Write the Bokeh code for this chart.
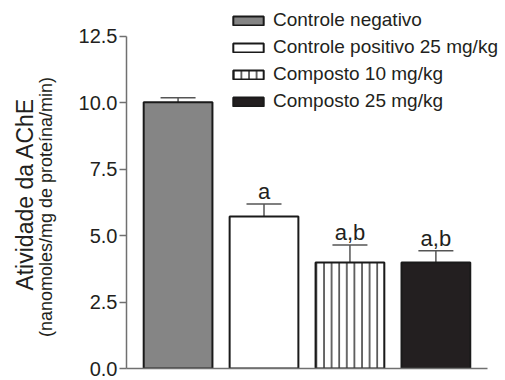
from bokeh.plotting import figure
from bokeh.models import (Range1d, Whisker, TeeHead, ColumnDataSource, LinearAxis,
                          FixedTicker, PrintfTickFormatter)
from bokeh.core.properties import value
from bokeh.embed import file_html
from bokeh.resources import INLINE

# ---- data ----
groups = ["Controle negativo", "Controle positivo 25 mg/kg", "Composto 10 mg/kg", "Composto 25 mg/kg"]
means = [10.02, 5.72, 3.99, 3.99]
errors = [0.17, 0.47, 0.66, 0.44]
sig_labels = ["", "a", "a,b", "a,b"]
yticks = [0.0, 2.5, 5.0, 7.5, 10.0, 12.5]
y_title = "Atividade da AChE"
y_subtitle = "(nanomoles/mg de proteína/min)"

# ---- styles ----
fills = ["#858585", "#ffffff", "#ffffff", "#231f20"]
hatches = [" ", " ", "|", " "]
FONT = "Liberation Sans"
TXT = "#231f20"
AXC = "#707070"
NBSP = "\u00a0"

src = ColumnDataSource(dict(
    x=list(range(len(groups))),
    group=groups,
    mean=means,
    upper=[m + e for m, e in zip(means, errors)],
    sig=sig_labels,
    fill=fills,
    hatch=hatches,
))

p = figure(width=505, height=380, x_range=Range1d(-0.6, 3.81), y_range=Range1d(0, 13.855),
           output_backend="svg", toolbar_location=None,
           min_border_left=126, min_border_right=0, min_border_top=0, min_border_bottom=12)
p.outline_line_color = None
p.grid.visible = False

p.vbar(x="x", top="mean", bottom=0, width=0.8, source=src, fill_color="fill",
       line_color="#1a1a1a", line_width=2, hatch_pattern="hatch", hatch_color="#1a1a1a",
       hatch_scale=7.6, hatch_weight=1.3, legend_field="group")

p.add_layout(Whisker(source=src, base="x", upper="upper", lower="mean", dimension="height",
                     line_color="#555555", line_width=1.5, lower_head=None,
                     upper_head=TeeHead(size=35, line_color="#555555", line_width=1.5)))

p.text(x="x", y="upper", text="sig", source=src, text_align="center", text_baseline="bottom",
       text_font=value(FONT), text_font_size="22px", text_color=TXT)

# x axis: only the baseline line
xa = p.xaxis[0]
xa.ticker = FixedTicker(ticks=[])
xa.bounds = (-0.6, 3.6)
xa.axis_line_color = AXC
xa.axis_line_width = 1.5
xa.major_tick_line_color = None
xa.minor_tick_line_color = None
xa.major_label_text_font_size = "0px"

# y axis with ticks
ax = p.yaxis[0]
ax.ticker = FixedTicker(ticks=yticks)
ax.formatter = PrintfTickFormatter(format="%.1f")
ax.bounds = (0, 12.5)
ax.axis_line_color = AXC
ax.axis_line_width = 1.5
ax.major_tick_line_color = AXC
ax.major_tick_line_width = 1.5
ax.major_tick_out = 7
ax.major_tick_in = 0
ax.minor_tick_line_color = None
ax.major_label_standoff = 2
ax.major_label_text_font = FONT
ax.major_label_text_font_size = "20px"
ax.major_label_text_color = TXT

def label_axis(text, size, standoff):
    a = LinearAxis(ticker=FixedTicker(ticks=[]), axis_label=text,
                   axis_line_color=None, major_tick_line_color=None, minor_tick_line_color=None,
                   major_label_text_font_size="0px", axis_label_standoff=standoff,
                   axis_label_text_font=FONT, axis_label_text_font_size=size,
                   axis_label_text_font_style="normal", axis_label_text_color=TXT)
    p.add_layout(a, "left")

# trailing no-break spaces push the centred label down, as in the reference
label_axis(y_subtitle + NBSP * 9, "18px", 20)
label_axis(y_title + NBSP * 3, "23px", -5)

lg = p.legend[0]
lg.location = (103, 256)
lg.glyph_width = 38
lg.glyph_height = 11
lg.label_height = 21
lg.spacing = 5
lg.padding = 0
lg.margin = 0
lg.label_standoff = 6
lg.border_line_color = None
lg.background_fill_alpha = 0
lg.label_text_font = FONT
lg.label_text_font_size = "19px"
lg.label_text_color = TXT

open("out.html", "w").write(file_html(p, INLINE))
